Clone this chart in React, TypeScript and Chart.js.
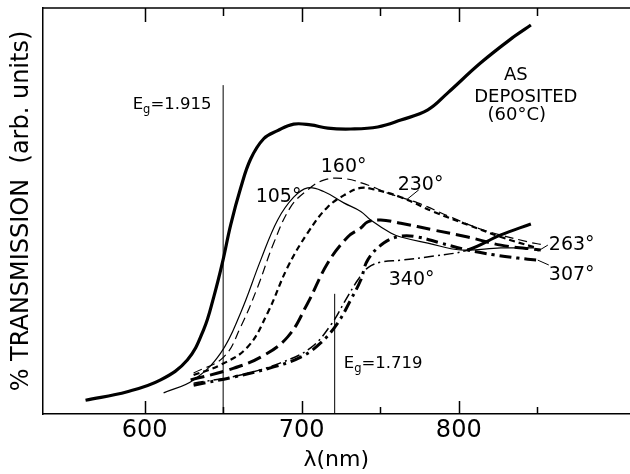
import React, { useEffect, useRef } from "react";
import { Chart, registerables } from "chart.js";

Chart.register(...registerables);

// ---- axis ticks ----
const xTickLabels = [600, 700, 800];
const xTickMarks = [600, 650, 700, 750, 800, 850];

// ---- series (wavelength nm, transmission arb. units) ----
const asDepositedNm = [562.4, 589.0, 610.2, 627.2, 637.6, 644.0, 649.5, 654.8, 661.1, 667.5, 675.8, 684.7, 694.9, 705.7, 716.6, 731.2, 748.4, 763.1, 780.3, 793.0, 814.0, 835.0, 845.9];
const asDepositedT = [3.4, 5.5, 8.4, 13.3, 20.8, 28.8, 37.2, 46.6, 55.6, 62.8, 67.8, 69.8, 71.4, 71.2, 70.4, 70.2, 70.7, 72.4, 74.9, 79.1, 86.5, 92.9, 95.8];

const a105Nm = [612.1, 631.2, 648.4, 661.1, 673.9, 684.7, 694.9, 703.8, 714.0, 726.8, 737.6, 743.9, 756.7, 763.1, 780.3, 801.3, 826.8, 847.8];
const a105T = [5.2, 8.4, 15.0, 24.9, 37.9, 47.8, 53.4, 55.7, 54.8, 52.0, 49.9, 47.8, 44.6, 43.6, 42.1, 40.4, 40.9, 40.9];

const a160Nm = [631.2, 650.3, 661.1, 672.0, 682.2, 693.0, 703.8, 714.0, 726.8, 742.0, 754.8, 773.9, 794.9, 815.9, 843.9, 852.2];
const a160T = [10.1, 14.0, 21.4, 31.3, 42.1, 51.0, 55.2, 57.6, 58.0, 56.4, 54.4, 52.0, 48.5, 45.3, 42.4, 41.8];

const a230Nm = [631.2, 648.4, 665.6, 678.3, 691.1, 703.8, 716.6, 729.3, 737.6, 745.2, 763.1, 784.1, 805.7, 826.8, 847.8];
const a230T = [9.6, 12.1, 16.5, 24.9, 36.2, 44.6, 51.0, 54.4, 55.7, 55.4, 53.4, 49.8, 46.6, 43.6, 41.1];

const a263Nm = [629.3, 652.9, 673.9, 691.1, 703.8, 716.6, 729.3, 737.6, 742.0, 750.3, 763.1, 784.1, 805.7, 826.8, 852.2];
const a263T = [8.4, 10.8, 14.0, 19.0, 27.3, 37.2, 43.6, 45.8, 47.3, 47.8, 47.0, 45.3, 43.6, 41.6, 40.4];

const a307Nm = [631.2, 656.7, 682.2, 699.4, 712.1, 722.9, 731.2, 737.6, 742.0, 752.2, 763.1, 773.9, 788.5, 805.7, 822.3, 837.6, 850.3];
const a307T = [7.1, 9.1, 11.6, 14.0, 17.5, 22.4, 28.1, 33.0, 37.9, 42.1, 43.8, 43.6, 42.1, 40.4, 39.2, 38.4, 37.9];

const a340Nm = [631.2, 661.1, 686.6, 705.7, 718.5, 728.0, 735.7, 742.0, 750.3, 763.1, 784.1, 805.7, 826.8, 845.9];
const a340T = [7.6, 9.6, 12.6, 16.3, 21.9, 28.1, 33.0, 36.0, 37.4, 37.9, 38.9, 40.4, 44.1, 46.8];

// ---- band-gap marker lines (nm, top of line) ----
const egLineNm = [650, 721];
const egLineTop = [81, 29.6];
const egLabelValues = ["1.915", "1.719"];
const egLabelNm = [592.4, 726.8];
const egLabelT = [75.1, 11.3];

// ---- curve labels ----
const degreeLabels = ["105°", "160°", "230°", "263°", "307°", "340°"];
const degreeLabelNm = [670.7, 712.1, 761.1, 857.3, 857.3, 755.4];
const degreeLabelT = [52.2, 59.6, 55.2, 40.4, 33.0, 31.8];

const depositLines = ["AS", "DEPOSITED", "(60°C)"];
const depositNm = [836.3, 842.7, 836.9];
const depositT = [82.3, 76.8, 72.4];

// leader lines
const leaderFromNm = [774.5, 856.7, 857.3];
const leaderFromT = [55.2, 41.6, 36.7];
const leaderToNm = [767.5, 850.3, 850.3];
const leaderToT = [53.0, 40.1, 37.9];

const FONT = "'DejaVu Sans', sans-serif";

const zip = (xs: number[], ys: number[]) => xs.map((x, i) => ({ x, y: ys[i] }));

const decorations = {
  id: "decorations",
  afterDatasetsDraw(chart: any) {
    const { ctx, chartArea, scales } = chart;
    const px = (v: number) => scales.x.getPixelForValue(v);
    const py = (v: number) => scales.y.getPixelForValue(v);
    ctx.save();
    ctx.strokeStyle = "#000";
    ctx.fillStyle = "#000";
    ctx.lineWidth = 1.5;
    ctx.beginPath();
    ctx.moveTo(chartArea.left, chartArea.top);
    ctx.lineTo(chartArea.right, chartArea.top);
    ctx.stroke();
    for (const v of xTickMarks) {
      const major = xTickLabels.includes(v);
      const X = Math.round(px(v)) + 0.5;
      ctx.beginPath();
      ctx.moveTo(X, chartArea.bottom);
      ctx.lineTo(X, chartArea.bottom - (major ? 13 : 7));
      ctx.moveTo(X, chartArea.top);
      ctx.lineTo(X, chartArea.top + (major ? 14 : 8));
      ctx.stroke();
    }
    ctx.lineWidth = 1;
    for (let i = 0; i < leaderFromNm.length; i++) {
      ctx.beginPath();
      ctx.moveTo(px(leaderFromNm[i]), py(leaderFromT[i]));
      ctx.lineTo(px(leaderToNm[i]), py(leaderToT[i]));
      ctx.stroke();
    }
    ctx.textBaseline = "alphabetic";
    ctx.textAlign = "left";
    ctx.font = `19px ${FONT}`;
    for (let i = 0; i < degreeLabels.length; i++) {
      ctx.fillText(degreeLabels[i], px(degreeLabelNm[i]), py(degreeLabelT[i]));
    }
    ctx.textAlign = "center";
    ctx.font = `18px ${FONT}`;
    for (let i = 0; i < depositLines.length; i++) {
      ctx.fillText(depositLines[i], px(depositNm[i]), py(depositT[i]));
    }
    ctx.textAlign = "left";
    for (let i = 0; i < egLabelValues.length; i++) {
      let X = px(egLabelNm[i]);
      const Y = py(egLabelT[i]);
      ctx.font = `16.5px ${FONT}`;
      ctx.fillText("E", X, Y);
      X += ctx.measureText("E").width;
      ctx.font = `11.5px ${FONT}`;
      ctx.fillText("g", X, Y + 4);
      X += ctx.measureText("g").width;
      ctx.font = `16.5px ${FONT}`;
      ctx.fillText("=" + egLabelValues[i], X, Y);
    }
    ctx.restore();
  },
};

export default function App() {
  const ref = useRef<HTMLCanvasElement | null>(null);
  useEffect(() => {
    if (!ref.current) return;
    const line = (
      label: string,
      xs: number[],
      ys: number[],
      width: number,
      dash: number[],
      extra: any = {}
    ) => ({
      label,
      data: zip(xs, ys),
      borderColor: "#000",
      borderWidth: width,
      borderDash: dash,
      pointRadius: 0,
      fill: false,
      tension: 0.4,
      borderCapStyle: "butt" as const,
      ...extra,
    });
    const datasets: any[] = [
      line("AS DEPOSITED (60°C)", asDepositedNm, asDepositedT, 3.2, []),
      line("105°", a105Nm, a105T, 1.2, []),
      line("160°", a160Nm, a160T, 1.2, [9, 5]),
      line("230°", a230Nm, a230T, 2.2, [6, 4]),
      line("263°", a263Nm, a263T, 3, [14, 6]),
      line("307°", a307Nm, a307T, 3, [12, 5, 3, 5]),
      line("340°", a340Nm, a340T, 1.5, [10, 4, 2, 4], {
        segment: {
          borderWidth: (c: any) => (c.p0.parsed.x >= 805 ? 3 : undefined),
          borderDash: (c: any) => (c.p0.parsed.x >= 805 ? [] : undefined),
        },
      }),
    ];
    egLineNm.forEach((nm, i) => {
      datasets.push({
        label: "Eg " + egLabelValues[i],
        data: [
          { x: nm, y: 0 },
          { x: nm, y: egLineTop[i] },
        ],
        borderColor: "#000",
        borderWidth: 1,
        pointRadius: 0,
        tension: 0,
        fill: false,
      });
    });
    const chart = new Chart(ref.current, {
      type: "line",
      data: { datasets },
      options: {
        animation: false,
        responsive: false,
        events: [],
        layout: { padding: { left: 0, right: 0, top: 8, bottom: 0 } },
        plugins: { legend: { display: false }, tooltip: { enabled: false } },
        scales: {
          x: {
            type: "linear",
            min: 535,
            max: 909,
            grid: { drawOnChartArea: false, drawTicks: false },
            border: { display: true, color: "#000", width: 1.5 },
            afterBuildTicks: (s: any) => {
              s.ticks = xTickLabels.map((v) => ({ value: v }));
            },
            afterFit: (s: any) => {
              s.height = 60;
            },
            ticks: {
              color: "#000",
              font: { family: FONT, size: 24 },
              padding: 2,
              maxRotation: 0,
              autoSkip: false,
            },
            title: {
              display: true,
              text: "λ(nm)",
              color: "#000",
              font: { family: FONT, size: 22 },
              padding: { top: 0, bottom: 1 },
            },
          },
          y: {
            type: "linear",
            min: 0,
            max: 100,
            grid: { drawOnChartArea: false, drawTicks: false },
            border: { display: true, color: "#000", width: 1.5 },
            ticks: { display: false },
            afterFit: (s: any) => {
              s.width = 42.5;
            },
            title: {
              display: true,
              text: "% TRANSMISSION  (arb. units)",
              color: "#000",
              font: { family: FONT, size: 24 },
              padding: { top: 7, bottom: 0 },
            },
          },
        },
      } as any,
      plugins: [decorations],
    });
    return () => chart.destroy();
  }, []);
  return (
    <div style={{ position: "fixed", left: 0, top: 0, width: 630, height: 474, background: "#fff" }}>
      <canvas ref={ref} width={630} height={474} />
    </div>
  );
}
